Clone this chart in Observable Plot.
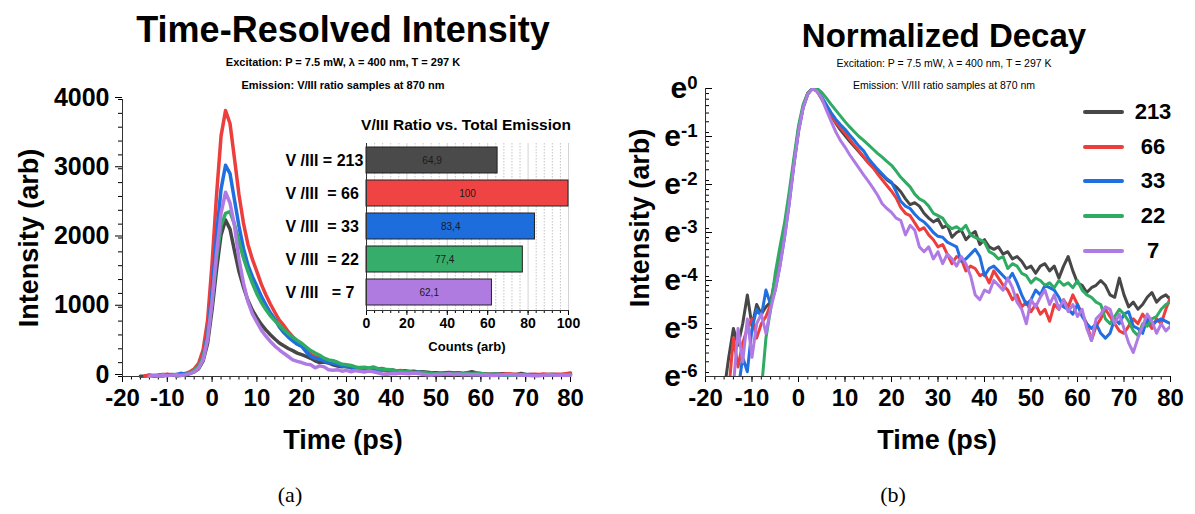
<!DOCTYPE html>
<html><head><meta charset="utf-8">
<script src="https://cdn.jsdelivr.net/npm/d3@7"></script>
<script src="https://cdn.jsdelivr.net/npm/@observablehq/plot@0.6"></script>
<style>
body{margin:0;background:#fff;}
#fig{position:relative;width:1195px;height:514px;overflow:hidden;font-family:"Liberation Sans",Arial,sans-serif;color:#000;}
.t{position:absolute;white-space:pre;line-height:1;transform:translate(-50%,-50%);}
.rot{transform:translate(-50%,-50%) rotate(-90deg);}
svg{position:absolute;overflow:visible;}
.leg{position:absolute;height:4px;border-radius:2px;}
</style></head><body><div id="fig"></div>
<script>
// ---------- data ----------
const series = ["213", "66", "33", "22", "7"];
const colors = ["#474747", "#ee3d3d", "#1f6fe0", "#2fab63", "#b07ae4"];
const peaks = [2260, 3840, 3050, 2380, 2660];          // peak intensity (arb), panel (a)
const times = d3.range(-16, 81);                        // ps, time grid of the samples
// ln(normalized intensity), panel (b) ; null = no signal
const ln213 = [-6.3,-5.6,-5.0,-5.35,-4.9,-4.3,-4.95,-4.5,-4.7,-4.55,-4.45,
  -3.95,-3.5,-3.0,-2.3,-1.55,-0.85,-0.38,-0.1,0,
  -0.06,-0.22,-0.4,-0.56,-0.72,-0.86,-0.98,-1.1,-1.21,-1.32,-1.43,-1.54,-1.63,-1.72,-1.8,-1.9,-1.97,
  -2.05,-2.15,-2.3,-2.42,-2.38,-2.45,-2.6,-2.7,-2.78,-2.72,-2.9,-2.85,-3.1,-3.0,-2.95,-3.15,-3.05,-2.98,-3.25,-3.15,
  -3.3,-3.35,-3.3,-3.45,-3.4,-3.55,-3.5,-3.6,-3.75,-3.7,
  -3.85,-3.7,-3.65,-3.8,-3.7,-3.95,-3.7,-3.5,-3.8,-4.05,
  -4.1,-4.25,-4.15,-4.1,-4.0,-4.1,-4.3,-4.35,-3.95,-4.3,
  -4.55,-4.45,-4.6,-4.5,-4.35,-4.25,-4.45,-4.35,-4.3,-4.4];
const ln66 = [null,-6.3,-5.2,-5.8,-5.3,-5.0,-4.8,-5.2,-4.9,-4.75,-4.5,
  -4.05,-3.55,-3.0,-2.3,-1.55,-0.85,-0.38,-0.1,0,
  -0.05,-0.2,-0.38,-0.55,-0.7,-0.82,-0.93,-1.06,-1.18,-1.3,-1.42,-1.55,-1.65,-1.78,-1.9,-2.02,-2.14,
  -2.28,-2.48,-2.6,-2.65,-2.8,-2.95,-2.9,-3.05,-3.15,-3.3,-3.25,-3.45,-3.65,-3.5,-3.55,-3.8,-3.7,-3.75,-3.9,-3.85,
  -4.05,-3.8,-3.95,-4.1,-4.2,-4.4,-4.3,-4.55,-4.45,-4.65,
  -4.5,-4.7,-4.6,-4.85,-4.5,-4.6,-4.4,-4.55,-4.3,-4.5,
  -4.7,-4.9,-5.25,-4.95,-4.8,-4.6,-4.75,-4.9,-5.05,-5.1,
  -4.95,-4.8,-4.9,-4.7,-4.85,-5.0,-4.8,-4.9,-4.6,-4.35];
const ln33 = [null,null,null,-6.3,-5.6,-5.9,-5.0,-4.6,-4.75,-4.2,-4.5,
  -4.2,-3.7,-3.1,-2.4,-1.6,-0.9,-0.4,-0.12,0,
  -0.04,-0.18,-0.34,-0.5,-0.64,-0.75,-0.85,-0.97,-1.08,-1.2,-1.3,-1.45,-1.57,-1.68,-1.78,-1.88,-1.95,
  -2.15,-2.35,-2.45,-2.5,-2.62,-2.72,-2.78,-2.88,-3.0,-3.08,-3.1,-3.2,-3.25,-3.3,-3.6,-3.55,-3.45,-3.35,-3.5,-3.9,
  -3.75,-3.7,-3.8,-3.9,-4.0,-3.85,-4.05,-4.3,-4.5,-4.4,
  -4.2,-4.3,-4.1,-4.15,-4.2,-4.35,-4.55,-4.6,-4.7,-4.5,
  -4.75,-4.9,-5.0,-4.9,-5.1,-5.2,-5.1,-4.8,-4.9,-4.7,
  -4.65,-4.95,-5.0,-5.1,-4.8,-4.9,-4.85,-4.8,-4.85,-4.9];
const ln22 = [null,null,null,null,null,null,null,null,-6.3,-5.2,-4.6,
  -3.85,-3.3,-2.8,-2.15,-1.45,-0.78,-0.33,-0.09,-0.01,
  0,-0.08,-0.2,-0.33,-0.45,-0.57,-0.69,-0.8,-0.9,-1.0,-1.08,-1.17,-1.26,-1.35,-1.43,-1.52,-1.6,
  -1.72,-1.85,-1.95,-2.05,-2.2,-2.3,-2.35,-2.45,-2.6,-2.65,-2.7,-2.85,-2.92,-2.88,-2.95,-2.85,-3.05,-3.1,-3.15,-3.2,
  -3.4,-3.45,-3.55,-3.5,-3.75,-3.65,-3.7,-3.85,-3.9,-4.05,
  -3.95,-4.0,-4.1,-4.05,-4.15,-4.0,-4.1,-4.05,-4.15,-4.0,
  -4.2,-4.3,-4.35,-4.45,-4.5,-4.8,-4.9,-4.75,-4.6,-4.7,
  -4.85,-5.05,-5.15,-4.9,-4.95,-4.8,-4.75,-4.6,-4.5,-4.45];
const ln7 = [null,null,-6.2,-5.0,-5.7,-4.8,-5.6,-4.9,-4.7,-5.1,-4.6,
  -4.2,-3.7,-3.1,-2.4,-1.6,-0.9,-0.4,-0.12,0,
  -0.06,-0.2,-0.45,-0.68,-0.9,-1.08,-1.22,-1.38,-1.52,-1.66,-1.8,-1.93,-2.07,-2.22,-2.4,-2.5,-2.58,
  -2.7,-2.75,-3.05,-2.85,-2.95,-3.3,-3.4,-3.3,-3.55,-3.4,-3.65,-3.45,-3.55,-3.7,-3.5,-3.65,-3.9,-4.3,-4.4,-4.2,
  -4.25,-4.0,-4.1,-4.2,-3.95,-4.15,-4.45,-4.6,-4.9,-4.4,
  -4.55,-4.35,-4.2,-4.5,-4.3,-4.6,-4.4,-4.65,-4.5,-4.75,
  -4.6,-5.0,-5.25,-4.8,-4.7,-4.55,-4.6,-4.9,-4.7,-5.0,
  -5.3,-5.5,-5.2,-4.95,-4.7,-4.85,-5.1,-4.9,-5.05,-4.95];
const lnSeries = [ln213, ln66, ln33, ln22, ln7];
// inset bars
const barLabels = ["V /III = 213", "V /III  = 66", "V /III  = 33", "V /III  = 22", "V /III   = 7"];
const barValues = [64.9, 100, 83.4, 77.4, 62.1];
const barColors = ["#4a4a4a", "#f04444", "#1d6ddd", "#36ad6b", "#b07be0"];
// ticks
const xTicks = [-20, -10, 0, 10, 20, 30, 40, 50, 60, 70, 80];
const yTicksA = [0, 1000, 2000, 3000, 4000];
const yTicksB = [0, -1, -2, -3, -4, -5, -6];
const barTicks = [0, 20, 40, 60, 80, 100];

// ---------- build ----------
const fig = document.getElementById("fig");
const FONT = '"Liberation Sans", Arial, sans-serif';
function txt(s, x, y, css) {
  const d = document.createElement("div");
  d.className = "t"; d.textContent = s;
  d.style.left = x + "px"; d.style.top = y + "px";
  Object.assign(d.style, css || {});
  fig.appendChild(d); return d;
}

const rowsA = [], rowsB = [];
series.forEach((s, si) => lnSeries[si].forEach((v, i) => {
  if (v == null) return;
  rowsB.push({t: times[i], v, s});
  rowsA.push({t: times[i], v: peaks[si] * Math.exp(v), s});
}));

// panel (a)
const plotA = Plot.plot({
  width: 600, height: 420, marginLeft: 122, marginRight: 30, marginTop: 99, marginBottom: 44,
  style: {fontFamily: FONT, fontWeight: "bold", fontSize: "24px", background: "transparent", color: "#000"},
  x: {domain: [-20, 80]}, y: {domain: [0, 4000]},
  color: {domain: series, range: colors},
  marks: [
    Plot.axisX(d3.range(-20, 81, 2), {tickSize: 3.5, tickFormat: () => "", label: null}),
    Plot.axisX(xTicks, {tickSize: 6, tickPadding: 6, tickFormat: d => String(d), label: null}),
    Plot.axisY(d3.range(0, 4001, 200), {tickSize: 4, tickFormat: () => "", label: null}),
    Plot.axisY(yTicksA, {tickSize: 7, tickPadding: 6, tickFormat: d => String(d), label: null, fontSize: 25, dy: -2}),
    Plot.ruleY([0], {stroke: "#333"}),
    Plot.ruleX([-20], {stroke: "#333"}),
    Plot.lineY(rowsA, {x: "t", y: "v", z: "s", stroke: "s", strokeWidth: 3.5, strokeLinejoin: "round"})
  ]
});
plotA.style.left = "0px"; plotA.style.top = "0px";
fig.appendChild(plotA);

// inset
const barRows = barLabels.map((l, i) => ({label: l, value: barValues[i], text: String(barValues[i]).replace(".", ",")}));
const plotI = Plot.plot({
  width: 310, height: 220, marginLeft: 96, marginRight: 12, marginTop: 8, marginBottom: 45,
  style: {fontFamily: FONT, fontWeight: "bold", fontSize: "14px", background: "transparent", color: "#000", whiteSpace: "pre"},
  x: {domain: [0, 100]},
  y: {domain: barLabels, paddingInner: 0.2, paddingOuter: 0.12, axis: null},
  color: {domain: barLabels, range: barColors},
  marks: [
    Plot.ruleX(d3.range(4, 100, 4).filter(d => d % 20), {stroke: "#b5b5b5", strokeWidth: 0.8, strokeDasharray: "1.5,1.5"}),
    Plot.ruleX([20, 40, 60, 80, 100], {stroke: "#c8c8c8", strokeWidth: 0.8}),
    Plot.barX(barRows, {x: "value", y: "label", fill: "label", stroke: "#222", strokeWidth: 1}),
    Plot.text(barRows, {x: d => d.value / 2, y: "label", text: "text", fontSize: 10, fontWeight: "normal", fill: "#1a1a1a"}),
    Plot.text(barLabels, {x: 0, y: d => d, text: d => d, textAnchor: "start", dx: -81, fontSize: 16}),
    Plot.axisX(d3.range(0, 101, 4), {tickSize: 3, tickFormat: () => "", label: null}),
    Plot.axisX(barTicks, {tickSize: 5, tickPadding: 3, tickFormat: d => String(d), label: null}),
    Plot.ruleX([0], {stroke: "#333"}),
    Plot.frame({anchor: "bottom", stroke: "#333"})
  ]
});
plotI.style.left = "270px"; plotI.style.top = "135px";
fig.appendChild(plotI);

// panel (b)
const minorB = [];
for (let n = 0; n < 6; n++) for (const f of [0.9, 0.8, 0.7, 0.6, 0.5, 0.4]) minorB.push(-n + Math.log(f));
const wB = 595, mlB = 105, mrB = 25;
const plotB = Plot.plot({
  width: wB, height: 420, marginLeft: mlB, marginRight: mrB, marginTop: 88, marginBottom: 44,
  style: {fontFamily: FONT, fontWeight: "bold", fontSize: "24px", background: "transparent", color: "#000"},
  x: {domain: [-20, 80]}, y: {domain: [-6, 0]},
  color: {domain: series, range: colors},
  marks: [
    Plot.axisX(d3.range(-20, 81, 2), {tickSize: 3.5, tickFormat: () => "", label: null}),
    Plot.axisX(xTicks, {tickSize: 6, tickPadding: 6, tickFormat: d => String(d), label: null}),
    Plot.tickY(minorB, {y: d => d, insetRight: wB - mlB - mrB - 4, stroke: "#000"}),
    Plot.tickY(yTicksB, {y: d => d, insetRight: wB - mlB - mrB - 7, stroke: "#000"}),
    Plot.axisY(yTicksB, {tickSize: 0, tickPadding: 8, tickFormat: d => "e" + d, label: null, fontSize: 30}),
    Plot.ruleY([-6], {stroke: "#333"}),
    Plot.ruleX([-20], {stroke: "#333"}),
    Plot.lineY(rowsB, {x: "t", y: "v", z: "s", stroke: "s", strokeWidth: 3, strokeLinejoin: "round", clip: true})
  ]
});
plotB.style.left = "600px"; plotB.style.top = "0px";
fig.appendChild(plotB);
// superscript exponents
plotB.querySelectorAll('g[aria-label="y-axis tick label"] text').forEach(t => {
  const s = t.textContent; const exp = s.slice(1);
  t.textContent = "e";
  const sp = document.createElementNS("http://www.w3.org/2000/svg", "tspan");
  sp.setAttribute("dy", "-0.5em"); sp.setAttribute("font-size", "0.62em"); sp.textContent = exp;
  t.appendChild(sp);
});

// legend
series.forEach((s, i) => {
  const y = [112, 147, 181, 216, 251][i];
  const l = document.createElement("div"); l.className = "leg";
  Object.assign(l.style, {left: "1083px", top: (y - 2) + "px", width: "41px", background: colors[i]});
  fig.appendChild(l);
  txt(s, 1153, y, {fontSize: "22px", fontWeight: "bold"});
});

// texts
txt("Time-Resolved Intensity", 343, 30, {fontSize: "36px", fontWeight: "bold"});
txt("Excitation: P = 7.5 mW, \u03bb = 400 nm, T = 297 K", 343, 62, {fontSize: "11px", fontWeight: "bold"});
txt("Emission: V/III ratio samples at 870 nm", 343, 85, {fontSize: "11px", fontWeight: "bold"});
txt("V/III Ratio vs. Total Emission", 466, 125, {fontSize: "15.5px", fontWeight: "bold"});
txt("Counts (arb)", 467, 346, {fontSize: "13px", fontWeight: "bold"});
txt("Time (ps)", 343, 440, {fontSize: "27px", fontWeight: "bold"});
txt("Intensity (arb)", 29, 238, {fontSize: "27px", fontWeight: "bold"}).classList.add("rot");
txt("Normalized Decay", 944, 35, {fontSize: "33px", fontWeight: "bold"});
txt("Excitation: P = 7.5 mW, \u03bb = 400 nm, T = 297 K", 944, 63, {fontSize: "10.5px"});
txt("Emission: V/III ratio samples at 870 nm", 944, 85, {fontSize: "10.5px"});
txt("Time (ps)", 937, 440, {fontSize: "27px", fontWeight: "bold"});
txt("Intensity (arb)", 640, 218, {fontSize: "27px", fontWeight: "bold"}).classList.add("rot");
txt("(a)", 290, 495, {fontSize: "22px", fontFamily: '"Liberation Serif", "DejaVu Serif", serif'});
txt("(b)", 893, 495, {fontSize: "22px", fontFamily: '"Liberation Serif", "DejaVu Serif", serif'});
</script></body></html>
